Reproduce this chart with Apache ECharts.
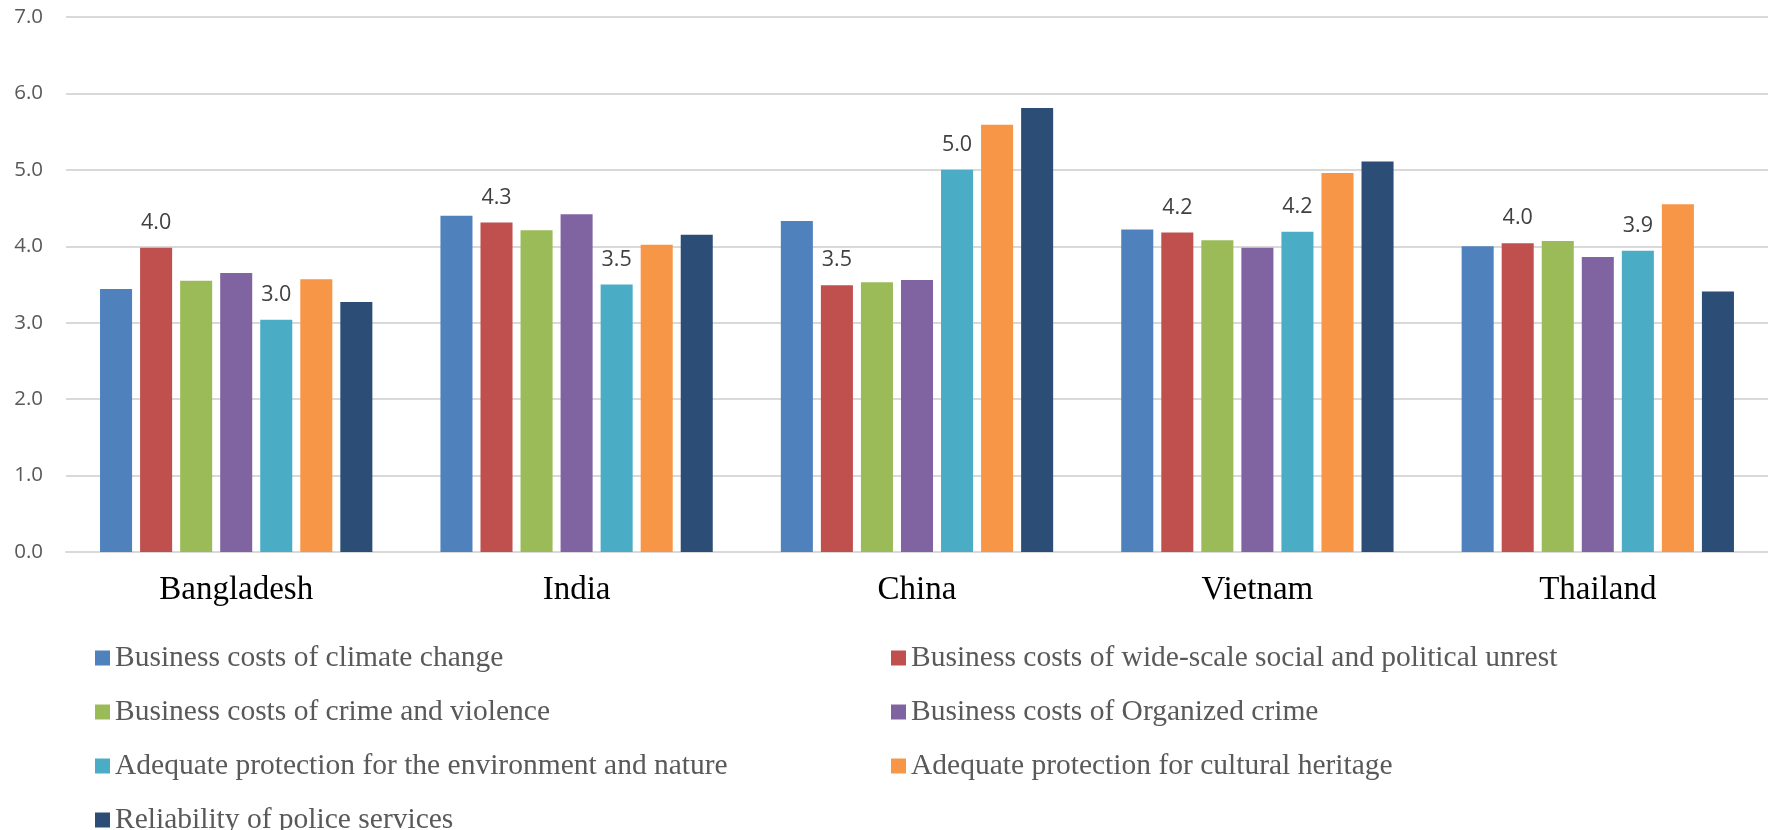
<!DOCTYPE html>
<html>
<head>
<meta charset="utf-8">
<script src="https://cdn.jsdelivr.net/npm/echarts@6/dist/echarts.min.js"></script>
<style>
html,body{margin:0;padding:0;background:#fff;}
#chart{width:1768px;height:830px;}
</style>
</head>
<body>
<div id="chart"></div>
<script>
const categories = ['Bangladesh', 'India', 'China', 'Vietnam', 'Thailand'];
const seriesNames = [
  'Business costs of climate change',
  'Business costs of wide-scale social and political unrest',
  'Business costs of crime and violence',
  'Business costs of Organized crime',
  'Adequate protection for the environment and nature',
  'Adequate protection for cultural heritage',
  'Reliability of police services'
];
const climateChange   = [3.44, 4.40, 4.33, 4.22, 4.00];
const socialUnrest    = [3.98, 4.31, 3.49, 4.18, 4.04];
const crimeViolence   = [3.55, 4.21, 3.53, 4.08, 4.07];
const organizedCrime  = [3.65, 4.42, 3.56, 3.98, 3.86];
const environment     = [3.04, 3.50, 5.00, 4.19, 3.94];
const culturalHeritage= [3.57, 4.02, 5.59, 4.96, 4.55];
const policeServices  = [3.27, 4.15, 5.81, 5.11, 3.41];
const yTicks = [0, 1, 2, 3, 4, 5, 6, 7];

const seriesValues = [climateChange, socialUnrest, crimeViolence, organizedCrime, environment, culturalHeritage, policeServices];
const colors = ['#4F81BD', '#C0504D', '#9BBB59', '#8064A2', '#4BACC6', '#F79646', '#2C4D75'];
const labelled = [false, true, false, false, true, false, false];

const chart = echarts.init(document.getElementById('chart'));

const legendCommon = {
  orient: 'vertical',
  icon: 'rect',
  itemWidth: 15,
  itemHeight: 15,
  itemGap: 24,
  top: 638,
  height: 400,
  selectedMode: false,
  textStyle: { fontFamily: 'Liberation Serif', fontSize: 29.5, color: '#595959', lineHeight: 29 }
};

chart.setOption({
  animation: false,
  color: colors,
  grid: { left: 66, right: 0, top: 17, bottom: 278, containLabel: false, outerBoundsMode: 'none' },
  legend: [
    Object.assign({}, legendCommon, { left: 90, data: [seriesNames[0], seriesNames[2], seriesNames[4], seriesNames[6]] }),
    Object.assign({}, legendCommon, { left: 886, data: [seriesNames[1], seriesNames[3], seriesNames[5]] })
  ],
  xAxis: {
    type: 'category',
    data: categories,
    axisTick: { show: false },
    axisLine: { lineStyle: { color: '#d9d9d9', width: 2 } },
    axisLabel: { fontFamily: 'Liberation Serif', fontSize: 33, color: '#000', margin: 22 }
  },
  yAxis: {
    type: 'value',
    min: yTicks[0],
    max: yTicks[yTicks.length - 1],
    interval: 1,
    axisLine: { show: false },
    axisTick: { show: false },
    splitLine: { lineStyle: { color: '#d9d9d9', width: 2 } },
    axisLabel: {
      fontFamily: 'Open Sans', fontSize: 20.5, color: '#595959', margin: 23,
      formatter: v => v.toFixed(1)
    }
  },
  series: seriesValues.map((vals, i) => ({
    name: seriesNames[i],
    type: 'bar',
    data: vals,
    barGap: '25%',
    barCategoryGap: '20%',
    itemStyle: { color: colors[i] },
    label: {
      show: labelled[i],
      position: 'top',
      distance: 14,
      fontFamily: 'Open Sans',
      fontSize: 21.5,
      color: '#404040',
      formatter: p => p.value.toFixed(1)
    }
  }))
});
</script>
</body>
</html>
